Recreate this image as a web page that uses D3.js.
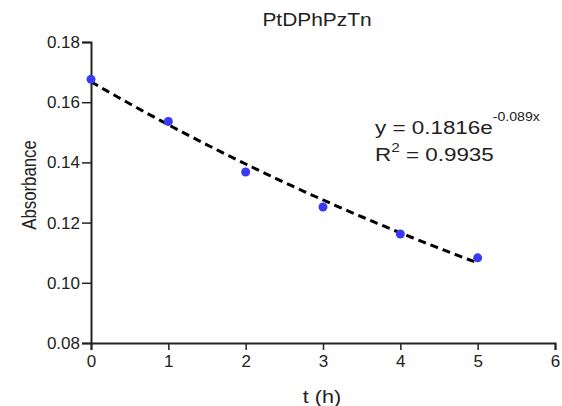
<!DOCTYPE html>
<html lang="en">
<head>
    <title>PtDPhPzTn absorbance</title>
    <style>
        body { margin: 0; background: #fff; }
        text { font-family: "Liberation Sans", Arial, sans-serif; fill: #222; }
    </style>
    <script src="https://d3js.org/d3.v7.min.js"></script>
</head>
<body>
<script>
    // data
    const hours      = [0, 1, 2, 3, 4, 5];
    const absorbance = [0.1676, 0.1536, 0.1368, 0.1252, 0.1162, 0.1083];
    const xTicks     = [0, 1, 2, 3, 4, 5, 6];
    const yTicks     = [0.08, 0.10, 0.12, 0.14, 0.16, 0.18];
    // exponential trend drawn on the chart (y = a * e^(b x))
    const fitA = 0.1668;
    const fitB = -0.0895;
    const fitRange = [0, 5];

    const width  = 562;
    const height = 406;
    const margin = {top: 42, right: 7, bottom: 63, left: 91};

    const svg = d3.select("body")
        .append("svg")
        .attr("width", width)
        .attr("height", height);

    const x = d3.scaleLinear()
        .domain([0, 6])
        .range([margin.left, width - margin.right]);

    const y = d3.scaleLinear()
        .domain([0.08, 0.18])
        .range([height - margin.bottom, margin.top]);

    // x axis
    const xAxis = svg.append("g")
        .attr("transform", `translate(0,${y(0.08)})`)
        .call(d3.axisBottom(x).tickValues(xTicks).tickSize(7).tickPadding(5).tickFormat(d3.format("d")));
    xAxis.select(".domain").attr("stroke", "#222").attr("stroke-width", 2);
    xAxis.selectAll(".tick line").attr("stroke", "#222").attr("stroke-width", 1.5);
    xAxis.selectAll("text").style("font-size", "17px").attr("fill", "#222");

    // y axis
    const yAxis = svg.append("g")
        .attr("transform", `translate(${x(0)},0)`)
        .call(d3.axisLeft(y).tickValues(yTicks).tickSize(9).tickPadding(2).tickFormat(d3.format(".2f")));
    yAxis.select(".domain").attr("stroke", "#222").attr("stroke-width", 2);
    yAxis.selectAll(".tick line").attr("stroke", "#222").attr("stroke-width", 1.5);
    yAxis.selectAll("text").style("font-size", "17px").attr("fill", "#222");

    // trend line
    const fitX = d3.range(fitRange[0], fitRange[1] + 0.001, 0.05);
    svg.append("path")
        .datum(fitX)
        .attr("fill", "none")
        .attr("stroke", "#000")
        .attr("stroke-width", 3)
        .attr("stroke-dasharray", "8,5")
        .attr("d", d3.line()
            .x(d => x(d))
            .y(d => y(fitA * Math.exp(fitB * d))));

    // points
    svg.selectAll("circle.pt")
        .data(hours)
        .enter()
        .append("circle")
        .attr("class", "pt")
        .attr("cx", (d) => x(d))
        .attr("cy", (d, i) => y(absorbance[i]))
        .attr("r", 4.5)
        .attr("fill", "#3a3af5");

    // title (text in the picture is a bit wide, hence the scale)
    svg.append("text")
        .attr("transform", "translate(317,26) scale(1.1,1)")
        .attr("text-anchor", "middle")
        .style("font-size", "19px")
        .text("PtDPhPzTn");

    // axis labels
    svg.append("text")
        .attr("transform", "translate(322,403) scale(1.2,1)")
        .attr("text-anchor", "middle")
        .style("font-size", "18px")
        .text("t (h)");

    svg.append("text")
        .attr("transform", "translate(36,185) rotate(-90) scale(0.8,1)")
        .attr("text-anchor", "middle")
        .style("font-size", "21px")
        .text("Absorbance");

    // equation
    const eqG = svg.append("g")
        .attr("transform", "translate(375,0) scale(1.18,1)");

    const eq = eqG.append("text")
        .attr("x", 0)
        .attr("y", 134)
        .style("font-size", "19px");
    eq.append("tspan").text("y = 0.1816e");
    eq.append("tspan").attr("dy", -13).style("font-size", "12px").text("-0.089x");

    const r2 = eqG.append("text")
        .attr("x", 0)
        .attr("y", 161)
        .style("font-size", "19px");
    r2.append("tspan").text("R");
    r2.append("tspan").attr("dy", -9).style("font-size", "13px").text("2");
    r2.append("tspan").attr("dy", 9).text(" = 0.9935");
</script>
</body>
</html>
